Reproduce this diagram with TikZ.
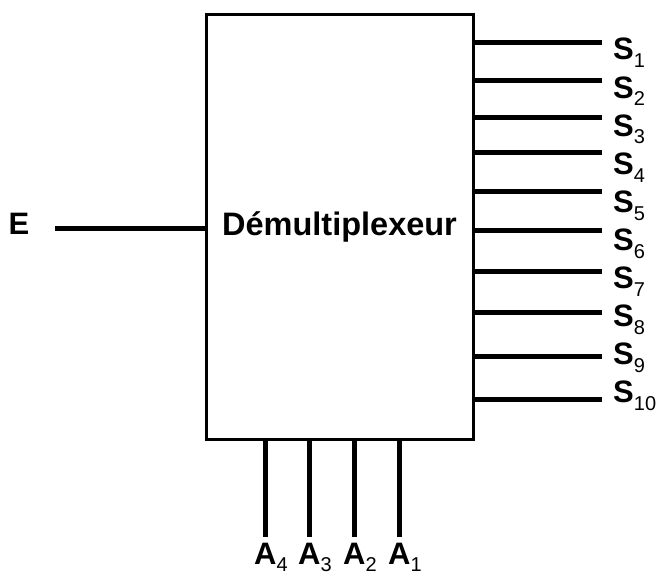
\documentclass[tikz,border=0pt]{standalone}
\usepackage{fontspec}
\setmainfont{Liberation Sans}
\usepackage{xcolor}
\usetikzlibrary{positioning,calc}
\definecolor{wire}{HTML}{000000}
\newcommand{\sub}[1]{\raisebox{-0.25em}{\fontsize{20}{20}\selectfont\mdseries #1}}
\newcommand{\lbl}{\fontsize{31}{34}\selectfont\bfseries}

\begin{document}
\begin{tikzpicture}[x=1pt,y=-1pt,
  block/.style={draw=wire,line width=3pt,minimum width=267pt,minimum height=424pt,font=\fontsize{32.5}{36}\selectfont\bfseries},
  wireline/.style={draw=wire,line width=5pt},
  pin/.style={font=\lbl,inner sep=0pt}]
\useasboundingbox (0,0) rectangle (656,577);
\node[block] (box) at (339.5,227) {Démultiplexeur};
% input
\coordinate (ein) at (55,229);
\node[pin] (e) at (19,224) {E};
\draw[wireline] (ein) -- (box.west |- ein);
% outputs
\foreach \i/\y in {1/43,2/81,3/118,4/153,5/192,6/231,7/272,8/313,9/356,10/399}{
  \coordinate (o\i) at (602,\y);
  \draw[wireline] (box.east |- o\i) -- (o\i);
  \node[pin,anchor=base west] (s\i) at (613,{60+38.1*(\i-1)}) {S\sub{\i}};
}
% select lines
\foreach \i/\x in {4/265,3/309,2/354,1/399}{
  \coordinate (a\i) at (\x,537);
  \draw[wireline] (box.south -| a\i) -- (a\i);
  \node[pin,anchor=base west] (al\i) at ($(a\i)+(-11,27)$) {A\sub{\i}};
}
\end{tikzpicture}
\end{document}
